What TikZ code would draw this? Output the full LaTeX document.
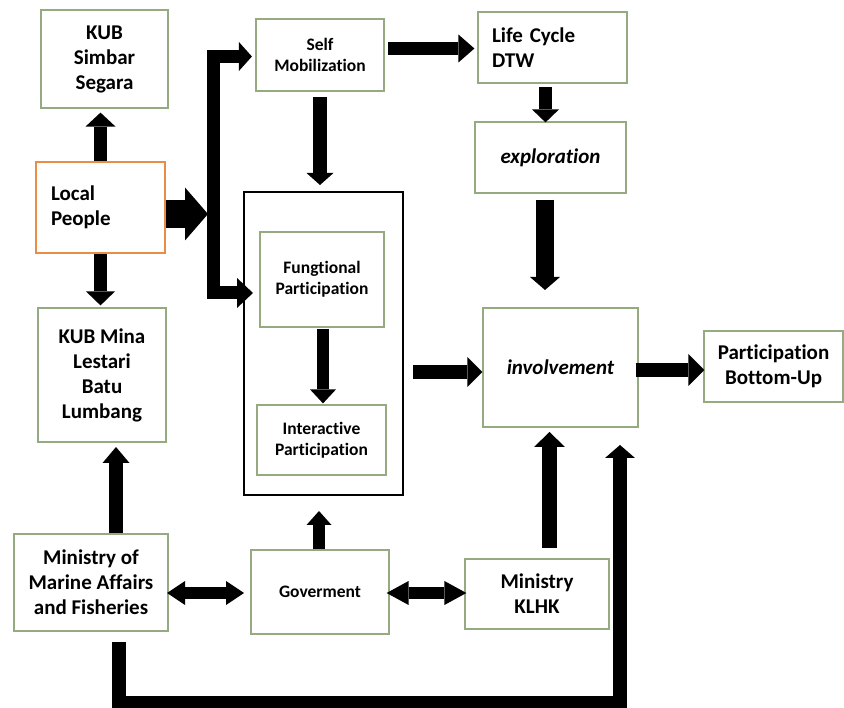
\documentclass[tikz,border=0pt]{standalone}
\usepackage{fontspec}
\setmainfont{Carlito}[Ligatures=NoCommon]
\usetikzlibrary{arrows.meta,calc}
\definecolor{gb}{RGB}{150,170,130}
\definecolor{ob}{RGB}{232,140,70}
\tikzset{
  gbox/.style={draw=gb, line width=1.2pt, fill=white, align=center, inner sep=0pt,
    font=\bfseries\fontsize{21}{25}\selectfont},
  sbox/.style={gbox, font=\bfseries\fontsize{17.5}{21}\selectfont},
  fat/.style={line width=#1, line cap=butt, line join=miter, draw=black},
  hd/.style n args={2}{arrows={-{Triangle[width=#1,length=#2,line width=0pt]}}},
}
\begin{document}
\begin{tikzpicture}[x=1pt,y=-1pt]
\useasboundingbox (0,0) rectangle (844,708);
\fill[white] (0,0) rectangle (844,708);

% nodes
\node[gbox, minimum width=127pt, minimum height=98pt] (kub1) at (104.5,59) {KUB\\Simbar\\Segara};
\node[gbox, draw=ob, line width=2.5pt, minimum width=129pt, minimum height=91pt,
      text width=99pt, inner xsep=15pt, align=left] (local) at (100.5,207.5) {Local\\People};
\node[gbox, minimum width=128pt, minimum height=134pt] (kub2) at (102,375) {KUB Mina\\Lestari\\Batu\\Lumbang};
\node[sbox, minimum width=128pt, minimum height=72pt] (selfm) at (320,55) {Self\\Mobilization};
\node[gbox, minimum width=149pt, minimum height=71pt, text width=121pt, inner xsep=14pt, align=left] (life) at (552.5,47.5) {Life Cycle\\DTW};
\node[gbox, minimum width=151pt, minimum height=71pt] (expl) at (550.5,157.5) {\itshape exploration};
\node[draw=black, line width=1.4pt, minimum width=159pt, minimum height=303pt, inner sep=0pt] (cont) at (323.5,343.5) {};
\node[sbox, minimum width=124pt, minimum height=95pt] (func) at (322,279.5) {Fungtional\\Participation};
\node[sbox, minimum width=129pt, minimum height=70pt] (inter) at (321.5,440) {Interactive\\Participation};
\node[gbox, minimum width=155pt, minimum height=119pt] (inv) at (560.5,367.5) {\itshape involvement};
\node[gbox, minimum width=139pt, minimum height=71pt] (pbu) at (773.5,366.5) {Participation\\Bottom-Up};
\node[gbox, minimum width=154pt, minimum height=97pt] (mmaf) at (91,582.5) {Ministry of\\Marine Affairs\\and Fisheries};
\node[sbox, minimum width=138pt, minimum height=84pt] (gov) at (320,592) {Goverment};
\node[gbox, minimum width=144pt, minimum height=70pt] (klhk) at (537,594) {Ministry\\KLHK};

\coordinate (bus) at (213,214);
\coordinate (bl) at (119,703);
\coordinate (br) at (620,703);

% connectors
\draw[fat=13pt, hd={30pt}{14pt}, shorten >=4pt] (local.north) -- (local.north |- kub1.south);
\draw[fat=13pt, hd={29pt}{14pt}, shorten >=2pt] (local.south) -- (local.south |- kub2.north);
\draw[fat=28pt, hd={53pt}{23pt}, shorten >=5pt] (local.east |- bus) -- (bus);
\draw[fat=13pt, arrows={{Triangle[width=29pt,length=13pt,line width=0pt]}-{Triangle[width=30pt,length=16pt,line width=0pt]}},
      shorten <=3.5pt, shorten >=6.4pt]
  ($(selfm.west)+(0,1.5)$) -| (bus) |- ($(func.west)+(0,13.5)$);
\draw[fat=14pt, hd={27pt}{12pt}, shorten <=5.4pt, shorten >=6.3pt] (selfm.south) -- (selfm.south |- cont.north);
\draw[fat=13pt, hd={28pt}{16pt}, shorten <=3pt, shorten >=3pt] ($(selfm.east)+(0,-6.5)$) -- ($(life.west)+(0,1)$);
\draw[fat=13pt, hd={27pt}{13pt}] ($(life.south)+(-7,3.4)$) -- ($(expl.north)+(-5,1)$);
\draw[fat=18pt, hd={30pt}{13pt}] ($(expl.south)+(-5.5,6)$) -- ($(inv.north)+(-15.5,-17.4)$);
\draw[fat=12pt, hd={26pt}{14pt}] ($(func.south)+(1,1)$) -- ($(inter.north)+(1.5,-1)$);
\draw[fat=14pt, hd={30pt}{15pt}] ($(cont.east)+(9.3,28.5)$) -- ($(inv.west)+(0,4.5)$);
\draw[fat=14pt, hd={32pt}{16pt}] ($(inv.east)+(-3,2.5)$) -- ($(pbu.west)+(1,3.5)$);
\draw[fat=15pt, hd={31pt}{15pt}] ($(klhk.north)+(12.5,-10.4)$) -- ($(inv.south)+(-11,4.4)$);
\draw[fat=13.5pt, hd={30pt}{13pt}] ($(mmaf.south)+(28,10.4)$) -- (bl) -- (br) -- ($(inv.south)+(59.5,17.4)$);
\draw[fat=14pt, hd={27pt}{16pt}] ($(mmaf.north)+(25,0)$) -- ($(kub2.south)+(14,4.4)$);
\draw[fat=12pt, hd={25pt}{14pt}] ($(gov.north)+(-1,0)$) -- ($(cont.south)+(-4.5,15.3)$);
\draw[fat=12pt, arrows={{Triangle[width=24pt,length=18pt,line width=0pt]}-{Triangle[width=24pt,length=18pt,line width=0pt]}}]
  ($(mmaf.east)+(-1.6,10.5)$) -- ($(gov.west)+(-6.4,1)$);
\draw[fat=12pt, arrows={{Triangle[width=24pt,length=22pt,line width=0pt]}-{Triangle[width=24pt,length=22pt,line width=0pt]}}]
  ($(gov.east)+(-3,1)$) -- ($(klhk.west)+(2,-1)$);
\end{tikzpicture}
\end{document}
